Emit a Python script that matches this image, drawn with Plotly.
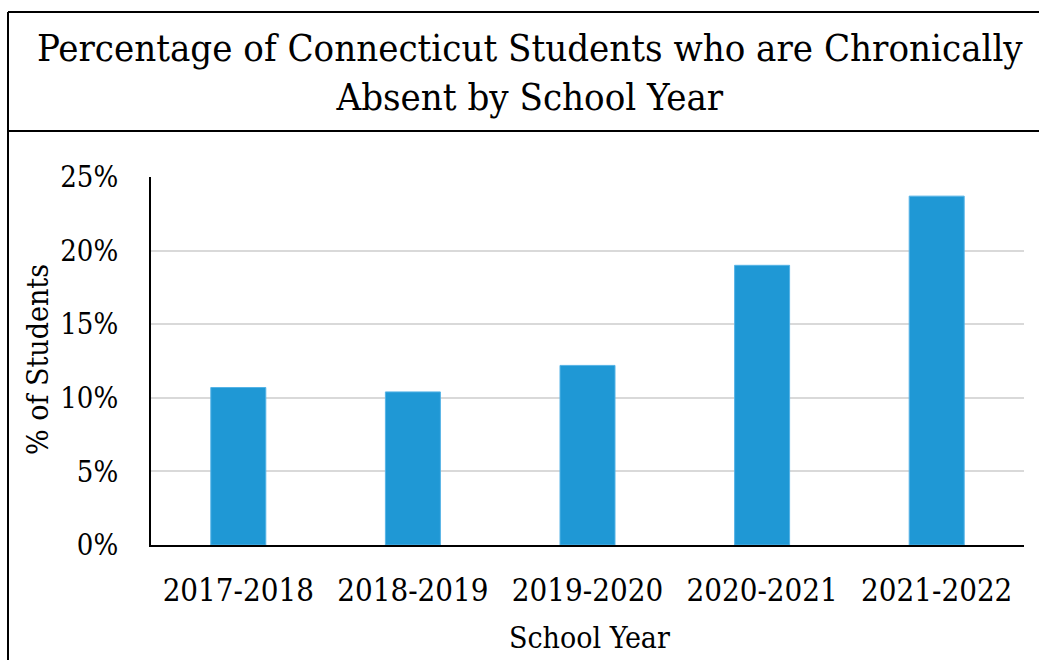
import plotly.graph_objects as go

# Chronic absence rate by school year (share of students)
school_years = ["2017-2018", "2018-2019", "2019-2020", "2020-2021", "2021-2022"]
pct_chronically_absent = [10.7, 10.4, 12.2, 19.0, 23.7]

y_tick_values = [0, 5, 10, 15, 20, 25]
y_tick_labels = ["0%", "5%", "10%", "15%", "20%", "25%"]

W, H = 1039, 660
L, R, T, B = 151, 15, 177, 115
plot_w = W - L - R
plot_h = H - T - B


def px_x(px):
    return (px - L) / plot_w


def px_y(py):
    return (H - B - py) / plot_h


FONT = "DejaVu Serif Condensed, Liberation Serif, serif"

fig = go.Figure(
    go.Bar(
        x=school_years,
        y=pct_chronically_absent,
        marker=dict(color="#1F98D5", line=dict(color="#55B3E6", width=1)),
        width=0.315,
        hoverinfo="x+y",
    )
)

fig.update_layout(
    width=W,
    height=H,
    margin=dict(l=L, r=R, t=T, b=B),
    paper_bgcolor="white",
    plot_bgcolor="white",
    showlegend=False,
    font=dict(family=FONT, color="black"),
)

fig.update_yaxes(
    range=[0, 25],
    tickvals=y_tick_values,
    ticktext=y_tick_labels,
    tickfont=dict(family=FONT, size=29),
    showgrid=True,
    gridcolor="#D9D9D9",
    gridwidth=2,
    showline=True,
    linecolor="black",
    linewidth=2,
    zeroline=False,
    ticks="",
    ticklabelstandoff=25,
)

fig.update_xaxes(
    tickfont=dict(family=FONT, size=31),
    showline=True,
    linecolor="black",
    linewidth=2,
    ticks="",
    ticklabelstandoff=17,
)

# outer frame: left edge, top edge, and rule under the title band
frame = dict(color="black", width=2)
fig.add_shape(type="line", xref="paper", yref="paper",
              x0=px_x(8), x1=px_x(8), y0=px_y(12), y1=px_y(H + 5), line=frame)
fig.add_shape(type="line", xref="paper", yref="paper",
              x0=px_x(8), x1=px_x(W + 5), y0=px_y(12), y1=px_y(12), line=frame)
fig.add_shape(type="line", xref="paper", yref="paper",
              x0=px_x(8), x1=px_x(W + 5), y0=px_y(131), y1=px_y(131), line=frame)

# title band
fig.add_annotation(
    xref="paper", yref="paper",
    x=px_x(530), y=px_y(72),
    text="Percentage of Connecticut Students who are Chronically<br>Absent by School Year",
    showarrow=False,
    font=dict(family=FONT, size=38, color="black"),
    align="center",
    xanchor="center", yanchor="middle",
)

# axis titles
fig.add_annotation(
    xref="paper", yref="paper",
    x=px_x(589), y=px_y(637),
    text="School Year",
    showarrow=False,
    font=dict(family=FONT, size=30, color="black"),
    xanchor="center", yanchor="middle",
)
fig.add_annotation(
    xref="paper", yref="paper",
    x=px_x(37), y=px_y(360),
    text="% of Students",
    showarrow=False,
    textangle=-90,
    font=dict(family=FONT, size=30, color="black"),
    xanchor="center", yanchor="middle",
)

fig.write_html("out.html")
